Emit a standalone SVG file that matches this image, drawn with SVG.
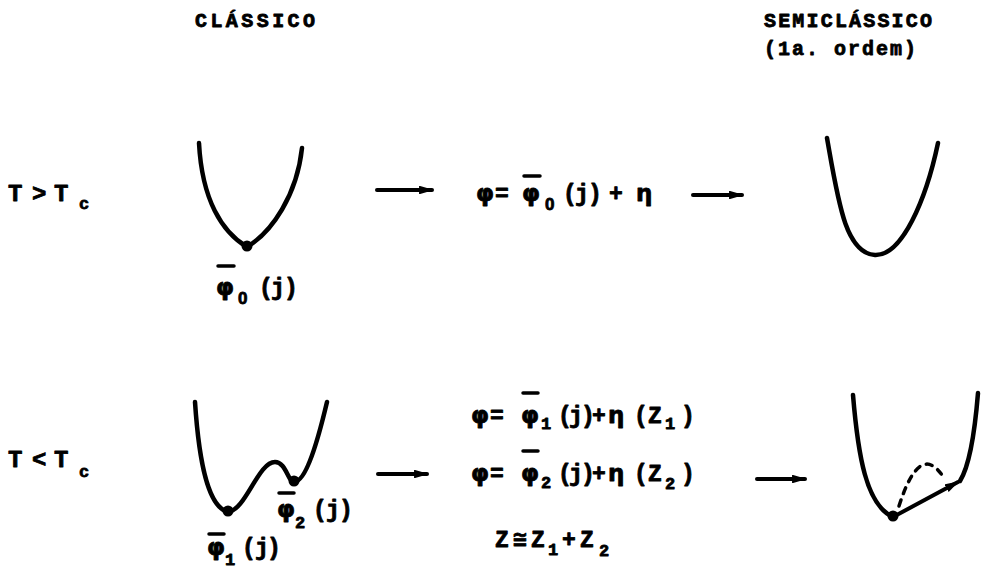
<svg xmlns="http://www.w3.org/2000/svg" width="982" height="572" viewBox="0 0 982 572">
  <style>
    .t { font-family: "Liberation Mono", "DejaVu Sans Mono", monospace; font-weight: bold; fill: #000; stroke: #000; stroke-width: 0.8; stroke-linejoin: round; }
    .g { font-family: "DejaVu Sans", sans-serif; }
    .z { font-family: "Liberation Sans", sans-serif; }
    .hdr { font-size: 20px; }
    .lbl { font-size: 24px; }
    .f { font-size: 23px; }
    .sub { font-size: 17px; }
    .bar { stroke: #000; stroke-width: 3.5; stroke-linecap: round; fill: none; }
    .curve { fill: none; stroke: #000; stroke-width: 4.5; stroke-linecap: round; stroke-linejoin: round; }
    .conn { fill: none; stroke: #000; stroke-width: 4; stroke-linecap: round; }
    .dash { fill: none; stroke: #000; stroke-width: 3.5; stroke-dasharray: 6 7; stroke-linecap: round; }
  </style>
  <defs>
    <marker id="ah" viewBox="0 0 10 6" refX="9" refY="3" markerWidth="3.6" markerHeight="2.2" orient="auto" markerUnits="strokeWidth">
      <path d="M0,0 L10,3 L0,6 z" fill="#000"/>
    </marker>
  </defs>
  <rect width="982" height="572" fill="#fff"/>

  <g id="header-classico">
    <text class="t hdr" x="195" y="27" textLength="120" lengthAdjust="spacing">CLÁSSICO</text>
  </g>
  <g id="header-semiclassico">
    <text class="t hdr" x="764" y="27" textLength="168" lengthAdjust="spacing">SEMICLÁSSICO</text>
    <text class="t hdr" x="764" y="55" textLength="152" lengthAdjust="spacing">(1a. ordem)</text>
  </g>

  <g id="row1-label">
    <text class="t lbl" x="8 32 54" y="201">T&gt;T<tspan class="sub" x="79" dy="8">c</tspan></text>
  </g>
  <g id="row1-classic">
    <path class="curve" d="M199,143 C202,200 222,232 247,247 C272,232 297,195 302,148"/>
    <circle cx="247" cy="246" r="5.5"/>
    <path class="bar" d="M218,266 L234,266"/>
    <text class="t f" y="295"><tspan class="g" x="216">φ</tspan><tspan class="sub z" x="238" dy="9">0</tspan><tspan x="259 271 284" dy="-9">(j)</tspan></text>
  </g>
  <g id="row1-formula">
    <path class="bar" d="M524,176 L540,176"/>
    <text class="t f" y="201"><tspan class="g" x="476">φ</tspan><tspan x="495">=</tspan><tspan class="g" x="522">φ</tspan><tspan class="sub z" x="545" dy="9">0</tspan><tspan x="563 575 588 609" dy="-9">(j)+</tspan><tspan class="g" x="636">η</tspan></text>
  </g>
  <g id="row1-semiclassic">
    <path class="curve" d="M827,138 C838,200 845,253 875,255 C902,256 926,200 938,143"/>
  </g>

  <g id="row2-label">
    <text class="t lbl" x="8 32 54" y="467">T&lt;T<tspan class="sub" x="79" dy="10">c</tspan></text>
  </g>
  <g id="row2-classic">
    <path class="curve" d="M195,402 C199,462 208,507 228,512 C246,510 258,462 275,462 C286,462 288,482 294,482 C306,482 318,440 327,402"/>
    <circle cx="228" cy="511" r="5.5"/>
    <circle cx="294" cy="481" r="5.5"/>
    <path class="bar" d="M279,493 L294,493"/>
    <text class="t f" y="517"><tspan class="g" x="277">φ</tspan><tspan class="sub" x="295" dy="11">2</tspan><tspan x="313 326 339" dy="-11">(j)</tspan></text>
    <path class="bar" d="M209,534 L224,534"/>
    <text class="t f" y="555"><tspan class="g" x="207">φ</tspan><tspan class="sub" x="225" dy="10">1</tspan><tspan x="242 255 267" dy="-10">(j)</tspan></text>
  </g>
  <g id="row2-formula">
    <path class="bar" d="M523,393 L538,393"/>
    <text class="t f" y="423"><tspan class="g" x="471">φ</tspan><tspan x="490">=</tspan><tspan class="g" x="521">φ</tspan><tspan class="sub" x="541" dy="6">1</tspan><tspan x="558 569 581 592" dy="-6">(j)+</tspan><tspan class="g" x="608">η</tspan><tspan x="634 648">(Z</tspan><tspan class="sub" x="665" dy="6">1</tspan><tspan x="681" dy="-6">)</tspan></text>
    <path class="bar" d="M523,451 L538,451"/>
    <text class="t f" y="481"><tspan class="g" x="471">φ</tspan><tspan x="490">=</tspan><tspan class="g" x="521">φ</tspan><tspan class="sub" x="541" dy="7">2</tspan><tspan x="558 569 581 592" dy="-7">(j)+</tspan><tspan class="g" x="608">η</tspan><tspan x="634 648">(Z</tspan><tspan class="sub" x="665" dy="8">2</tspan><tspan x="681" dy="-8">)</tspan></text>
    <text class="t f" x="495 513 531" y="547">Z≅Z<tspan class="sub" x="548" dy="8">1</tspan><tspan x="562 580" dy="-8">+Z</tspan><tspan class="sub" x="599" dy="9">2</tspan></text>
  </g>
  <g id="row2-semiclassic">
    <path class="curve" d="M853,395 C858,455 866,505 893,517"/>
    <path class="curve" d="M978,393 C975,430 970,465 960,481"/>
    <line class="conn" x1="893" y1="517" x2="958" y2="482" marker-end="url(#ah)"/>
    <path class="dash" d="M899,506 Q920,440 944,478"/>
    <circle cx="893" cy="516" r="5.5"/>
  </g>

  <g id="connectors">
    <line class="conn" x1="377" y1="190" x2="432" y2="190" marker-end="url(#ah)"/>
    <line class="conn" x1="693" y1="195" x2="742" y2="195" marker-end="url(#ah)"/>
    <line class="conn" x1="378" y1="474" x2="427" y2="474" marker-end="url(#ah)"/>
    <line class="conn" x1="757" y1="479" x2="805" y2="479" marker-end="url(#ah)"/>
  </g>
</svg>
